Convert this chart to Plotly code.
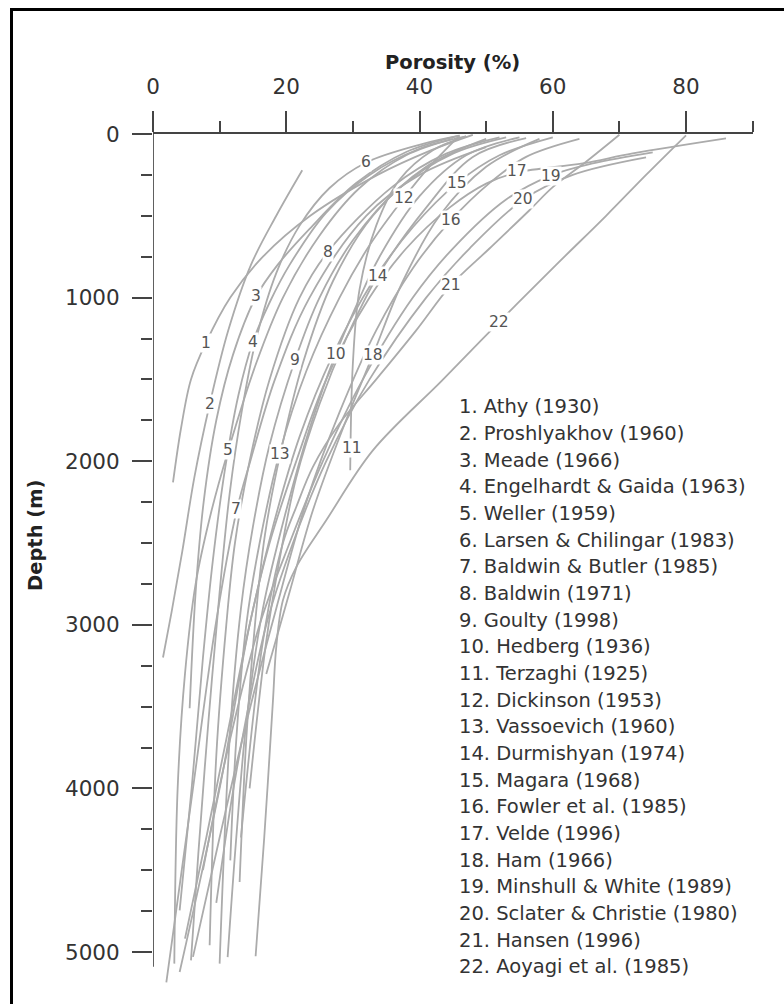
import plotly.graph_objects as go

# Porosity-depth curves for shales (porosity %, depth m)
por_01 = [48, 41.7, 33.7, 23.6, 16.5, 11.6, 7.9, 5.7, 4.2, 3.0]
dep_01 = [5, 100, 250, 500, 750, 1000, 1280, 1500, 1800, 2130]
por_02 = [22.4, 18.5, 14.7, 11.3, 8.5, 6.2, 4.4, 2.8, 1.5]
dep_02 = [222, 500, 800, 1200, 1653, 2100, 2550, 2920, 3200]
por_03 = [46, 38, 30.5, 23.5, 18.7, 15.5, 12, 9.5, 7.6, 6.4, 5.5]
dep_03 = [10, 110, 300, 580, 800, 992, 1350, 1750, 2250, 2800, 3510]
por_04 = [47, 40, 32.5, 26, 20.5, 17.5, 15.0, 12.8, 10.8, 9.0, 7.5, 5.8, 4.0]
dep_04 = [15, 90, 250, 480, 800, 1030, 1270, 1600, 2050, 2600, 3200, 4000, 4746]
por_05 = [45, 38, 31, 25, 19.5, 15.5, 11.3, 8.8, 6.4, 4.8, 3.7, 3.2]
dep_05 = [30, 130, 330, 620, 1000, 1400, 1934, 2300, 2750, 3300, 4000, 5071]
por_06 = [46, 40.5, 32, 26.5, 22, 18.5, 15.5, 13.3, 11.5, 10, 8.3, 6.8, 5.7]
dep_06 = [10, 60, 174, 330, 560, 850, 1250, 1700, 2200, 2800, 3600, 4400, 5051]
por_07 = [50, 40, 32, 23.5, 18.3, 14.6, 12.6, 9.4, 6.0, 2.0]
dep_07 = [80, 250, 500, 1000, 1500, 2000, 2294, 3000, 4000, 5186]
por_08 = [52, 44, 36, 26.2, 22, 17.5, 14.5, 12.3, 11, 9.5, 8.5]
dep_08 = [20, 120, 320, 723, 1000, 1500, 2000, 2500, 3000, 3800, 4959]
por_09 = [53, 45, 37, 30, 25, 21.3, 17.5, 15, 13.2, 11.5, 10]
dep_09 = [20, 120, 330, 650, 1000, 1384, 1900, 2400, 2900, 3700, 5071]
por_10 = [55, 47, 40, 34, 30.5, 27.4, 23.5, 20, 16.5, 14, 12.5, 11.2]
dep_10 = [20, 130, 380, 750, 1050, 1347, 1800, 2300, 2900, 3600, 4300, 5031]
por_11 = [47, 42, 37, 33.5, 31, 30, 29.6]
dep_11 = [15, 100, 280, 560, 950, 1400, 2056]
por_12 = [46, 41.5, 37.6, 32.5, 28, 23, 19, 16, 14, 12.5, 11.6]
dep_12 = [10, 200, 394, 680, 1000, 1450, 1950, 2500, 3000, 3700, 4440]
por_13 = [50, 41, 33, 27, 22.5, 19.1, 16.8, 15.3, 14, 13]
dep_13 = [30, 200, 500, 900, 1400, 1957, 2450, 3000, 3700, 4572]
por_14 = [56, 48, 41, 33.7, 29, 25, 21.5, 19, 17, 14.5]
dep_14 = [25, 140, 450, 870, 1250, 1650, 2100, 2600, 3100, 4000]
por_15 = [60, 52, 45.6, 39, 33, 27, 22, 18, 14.5, 11, 8, 4.8]
dep_15 = [20, 130, 302, 570, 900, 1350, 1850, 2400, 3000, 3700, 4300, 4918]
por_16 = [64, 56, 50.5, 44.7, 39, 33.5, 28, 23, 18.5, 14, 10, 6.0]
dep_16 = [30, 140, 300, 528, 820, 1200, 1700, 2250, 2900, 3600, 4300, 5030]
por_17 = [86, 72, 64.5, 54.7, 50, 44.5, 38, 32.5, 26, 21.5, 17.5, 14.5, 10, 4.0]
dep_17 = [27, 119, 180, 235, 303, 450, 700, 1000, 1500, 2000, 2500, 3000, 4000, 5122]
por_18 = [58, 50, 43, 37.5, 33, 28.5, 24, 20.5, 17]
dep_18 = [30, 200, 500, 900, 1352, 1800, 2300, 2800, 3300]
por_19 = [75, 66, 59.7, 53, 45, 39, 31.5, 25.5, 20.5, 16, 11, 7.5]
dep_19 = [112, 180, 254, 400, 700, 1000, 1500, 2000, 2500, 3000, 3800, 4500]
por_20 = [74, 63, 55.6, 47.5, 41, 32.5, 26, 21, 17, 12.5, 9.5]
dep_20 = [143, 250, 400, 700, 1000, 1500, 2000, 2500, 3000, 3900, 4700]
por_21 = [70, 65, 60, 56.5, 50.5, 44.7, 39.5, 33.5, 28, 24, 21.5, 19.5, 16.5, 13.2]
dep_21 = [5, 170, 325, 466, 700, 925, 1200, 1500, 1770, 2035, 2280, 2500, 3100, 4300]
por_22 = [80, 74, 68, 60.5, 51.9, 43.4, 33, 26, 21.5, 19.5, 18.5, 18, 16.7, 15.4]
dep_22 = [8, 250, 500, 800, 1151, 1506, 1934, 2361, 2647, 2850, 3136, 3466, 4297, 5026]

curve_por = [por_01, por_02, por_03, por_04, por_05, por_06, por_07, por_08,
             por_09, por_10, por_11, por_12, por_13, por_14, por_15, por_16,
             por_17, por_18, por_19, por_20, por_21, por_22]
curve_dep = [dep_01, dep_02, dep_03, dep_04, dep_05, dep_06, dep_07, dep_08,
             dep_09, dep_10, dep_11, dep_12, dep_13, dep_14, dep_15, dep_16,
             dep_17, dep_18, dep_19, dep_20, dep_21, dep_22]

# Position of each curve's number tag
label_por = [7.9, 8.5, 15.5, 15.0, 11.3, 32.0, 12.4, 26.2, 21.3, 27.4, 29.8,
             37.6, 19.1, 33.7, 45.6, 44.7, 54.7, 33.0, 59.7, 55.6, 44.7, 51.9]
label_dep = [1280, 1653, 992, 1270, 1934, 174, 2294, 723, 1384, 1347, 1920,
             394, 1957, 870, 302, 528, 229, 1352, 254, 400, 925, 1151]

sources = [
    "Athy (1930)", "Proshlyakhov (1960)", "Meade (1966)",
    "Engelhardt & Gaida (1963)", "Weller (1959)", "Larsen & Chilingar (1983)",
    "Baldwin & Butler (1985)", "Baldwin (1971)", "Goulty (1998)",
    "Hedberg (1936)", "Terzaghi (1925)", "Dickinson (1953)",
    "Vassoevich (1960)", "Durmishyan (1974)", "Magara (1968)",
    "Fowler et al. (1985)", "Velde (1996)", "Ham (1966)",
    "Minshull & White (1989)", "Sclater & Christie (1980)", "Hansen (1996)",
    "Aoyagi et al. (1985)",
]

x_major = [0, 20, 40, 60, 80]
x_minor = [10, 30, 50, 70, 90]
y_major = [0, 1000, 2000, 3000, 4000, 5000]
y_minor = [250, 500, 750, 1250, 1500, 1750, 2250, 2500, 2750, 3250, 3500,
           3750, 4250, 4500, 4750]

W, H = 784, 1004
L, R, T, B = 153, 31, 134, 14
PW, PH = W - L - R, H - T - B

AXIS = "#444444"
LINE = "#ababab"
TEXT = "#333333"
FONT = "DejaVu Sans"


def px_x(px):
    return (px - L) / PW


def px_y(py):
    return (H - B - py) / PH


fig = go.Figure()

for i, (xs, ys) in enumerate(zip(curve_por, curve_dep)):
    fig.add_trace(go.Scatter(
        x=xs, y=ys, mode="lines", name=sources[i],
        line=dict(color=LINE, width=1.8, shape="spline", smoothing=1.0),
        hoverinfo="name", showlegend=False,
    ))

annotations = []
for i in range(len(sources)):
    annotations.append(dict(
        x=label_por[i], y=label_dep[i], xref="x", yref="y",
        text=str(i + 1), showarrow=False, bgcolor="white", borderpad=0,
        font=dict(family=FONT, size=15.5, color="#555555"),
    ))

# Numbered source list
for i, name in enumerate(sources):
    annotations.append(dict(
        x=px_x(457), y=px_y(406.7 + 26.67 * i), xref="paper", yref="paper",
        xanchor="left", yanchor="middle", showarrow=False,
        text=f"{i + 1}. {name}",
        font=dict(family=FONT, size=19.5, color=TEXT),
    ))

# Axis titles
annotations.append(dict(
    x=px_x(452), y=px_y(62), xref="paper", yref="paper", showarrow=False,
    text="<b>Porosity (%)</b>", xanchor="center", yanchor="middle",
    font=dict(family=FONT, size=19.5, color="#222222"),
))
annotations.append(dict(
    x=px_x(35), y=px_y(535), xref="paper", yref="paper", showarrow=False,
    text="<b>Depth (m)</b>", textangle=-90, xanchor="center", yanchor="middle",
    font=dict(family=FONT, size=19.5, color="#222222"),
))

shapes = [
    # depth axis line
    dict(type="line", xref="x", yref="y", x0=0, x1=0, y0=0, y1=5090,
         line=dict(color=AXIS, width=1.7)),
    # outer frame
    dict(type="line", xref="paper", yref="paper",
         x0=px_x(11.5), x1=px_x(11.5), y0=px_y(8), y1=px_y(1010),
         line=dict(color="black", width=3)),
    dict(type="line", xref="paper", yref="paper",
         x0=px_x(10), x1=px_x(790), y0=px_y(9.5), y1=px_y(9.5),
         line=dict(color="black", width=3)),
]

fig.update_layout(
    width=W, height=H,
    margin=dict(l=L, r=R, t=T, b=B),
    paper_bgcolor="white", plot_bgcolor="white",
    annotations=annotations, shapes=shapes,
    showlegend=False,
    xaxis=dict(
        range=[0, 90.05], side="top", showgrid=False, zeroline=False,
        showline=True, linecolor=AXIS, linewidth=1.7,
        ticks="outside", ticklen=21, tickwidth=1.7, tickcolor=AXIS,
        tickvals=x_major, ticktext=[str(v) for v in x_major],
        ticklabelstandoff=9,
        tickfont=dict(family=FONT, size=21.5, color=TEXT),
        minor=dict(tickvals=x_minor, ticks="outside", ticklen=11,
                   tickwidth=1.7, tickcolor=AXIS, showgrid=False),
    ),
    yaxis=dict(
        range=[PH / 0.1636, 0], showgrid=False, zeroline=False,
        showline=False,
        ticks="outside", ticklen=20, tickwidth=1.7, tickcolor=AXIS,
        tickvals=y_major, ticktext=[str(v) for v in y_major],
        ticklabelstandoff=8,
        tickfont=dict(family=FONT, size=21.5, color=TEXT),
        minor=dict(tickvals=y_minor, ticks="outside", ticklen=11,
                   tickwidth=1.7, tickcolor=AXIS, showgrid=False),
    ),
)

fig.write_html("out.html")
